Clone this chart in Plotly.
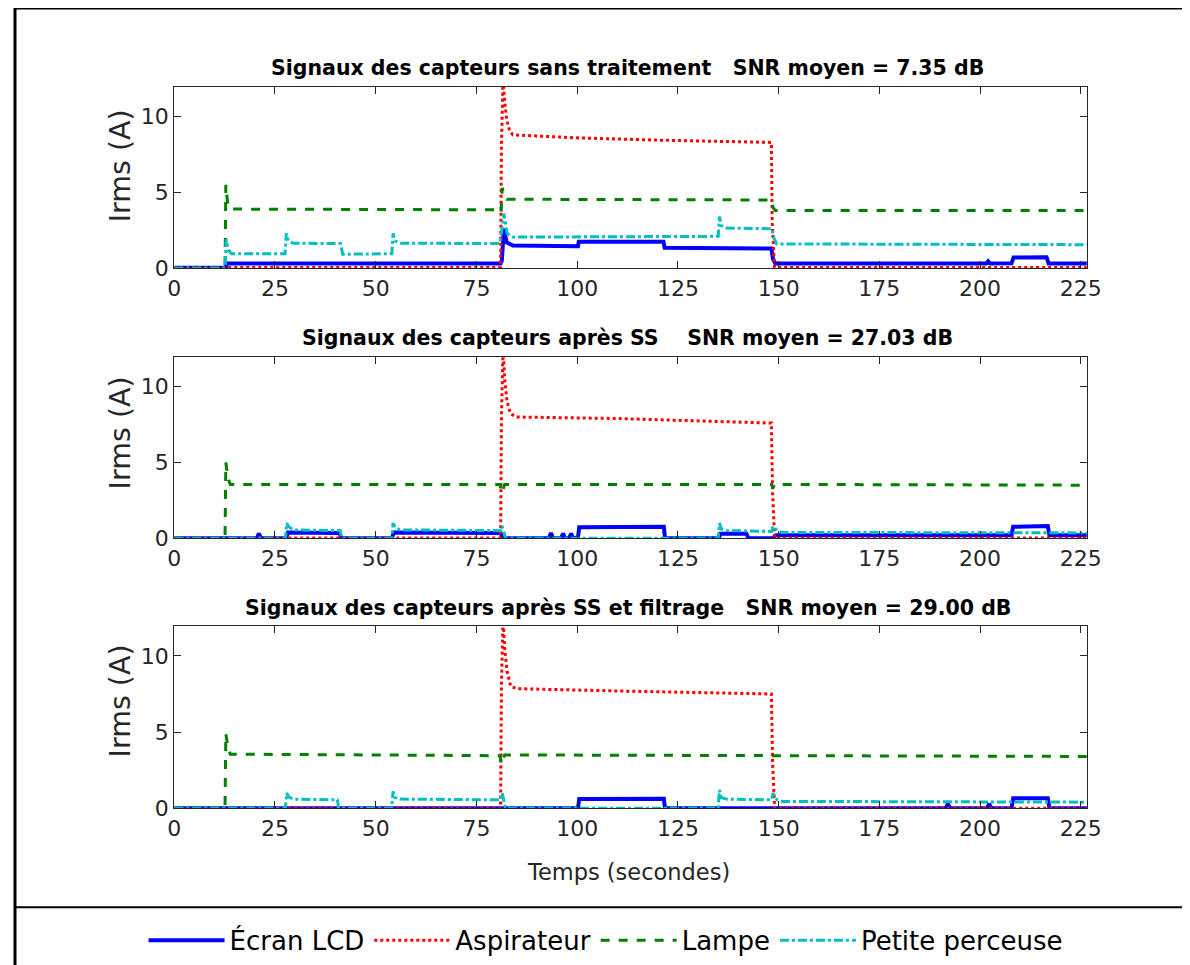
import plotly.graph_objects as go

# Figure size (CSS px). Positions below are given in target picture pixels and
# converted to figure coordinates (page has a body margin and the capture is scaled).
W, H = 1200, 975
FONT = "DejaVu Sans"
SX, OX, SY, BODY = 0.981, 7.0, 0.9865, 8.0

series_names = ["Écran LCD", "Aspirateur", "Lampe", "Petite perceuse"]
series_colors = ["#0000FF", "#FF0000", "#008000", "#00BFBF"]
series_dash = ["solid", "dot", "dash", "dashdot"]
series_width = [4, 3, 3, 3]

titles = [
    "Signaux des capteurs sans traitement\u00a0\u00a0\u00a0SNR moyen = 7.35 dB",
    "Signaux des capteurs après SS\u00a0\u00a0\u00a0\u00a0SNR moyen = 27.03 dB",
    "Signaux des capteurs après SS et filtrage\u00a0\u00a0\u00a0SNR moyen = 29.00 dB",
]
y_label = "Irms (A)"
x_label = "Temps (secondes)"
x_ticks = [0, 25, 50, 75, 100, 125, 150, 175, 200, 225]
y_ticks = [0, 5, 10]

# ---- Subplot 1: sans traitement ----
t_lcd_1 = [0, 12.8, 13.0, 81.0, 81.3, 81.8, 82.5, 84, 100.2, 100.4, 121.4, 121.7, 148.2, 148.6, 149.2, 201.5, 202, 202.5, 207.8, 208.3, 216.5, 217, 226.5]
lcd_1 = [0.02, 0.02, 0.3, 0.3, 0.5, 2.6, 1.7, 1.5, 1.45, 1.75, 1.75, 1.35, 1.3, 0.6, 0.3, 0.3, 0.45, 0.3, 0.32, 0.7, 0.72, 0.3, 0.3]
t_asp_1 = [0, 81.0, 81.2, 81.6, 82.0, 82.5, 83.2, 84, 100, 120, 148.2, 148.4, 149, 226.5]
asp_1 = [0.05, 0.05, 8, 12.5, 11, 9.8, 9.1, 8.8, 8.6, 8.45, 8.3, 3, 0.05, 0.05]
t_lam_1 = [0, 12.6, 12.8, 13.2, 13.8, 80.9, 81.1, 81.4, 81.9, 82.5, 148.3, 148.6, 149.2, 226.5]
lam_1 = [0, 0, 5.5, 4.4, 3.9, 3.85, 3.7, 5.3, 4.8, 4.55, 4.5, 4.0, 3.8, 3.8]
t_per_1 = [0, 12.6, 12.9, 13.4, 14.2, 27.5, 27.8, 28.3, 29.5, 41.3, 41.8, 54.0, 54.3, 54.8, 56, 80.8, 81.3, 81.8, 82.6, 84, 135.0, 135.3, 135.8, 137, 148.3, 148.8, 149.5, 226.5]
per_1 = [0, 0, 1.9, 1.2, 0.95, 0.95, 2.3, 1.8, 1.65, 1.62, 0.92, 0.95, 2.3, 1.8, 1.65, 1.62, 2.5, 3.6, 2.3, 2.05, 2.1, 3.4, 2.8, 2.65, 2.6, 2.0, 1.6, 1.55]

# ---- Subplot 2: après SS ----
t_lcd_2 = [0, 20.5, 21, 21.5, 27.8, 28.2, 41, 41.5, 54.0, 54.5, 81.0, 81.5, 93, 93.5, 94, 96, 96.5, 97, 98, 98.5, 99, 100.2, 100.5, 121.5, 121.8, 135.2, 135.5, 142, 142.5, 148.5, 149.3, 207.8, 208.2, 216.8, 217.2, 226.5]
lcd_2 = [0, 0, 0.3, 0, 0, 0.38, 0.35, 0, 0, 0.38, 0.35, 0, 0, 0.35, 0, 0, 0.3, 0, 0, 0.3, 0, 0.05, 0.73, 0.75, 0, 0, 0.3, 0.3, 0, 0, 0.2, 0.2, 0.75, 0.8, 0.2, 0.2]
t_asp_2 = [0, 81.0, 81.2, 81.6, 82.0, 82.6, 83.5, 85, 110, 148.2, 148.5, 149, 226.5]
asp_2 = [0.02, 0.02, 8, 12.5, 10.5, 9, 8.2, 8.0, 7.9, 7.6, 3, 0.02, 0.02]
t_lam_2 = [0, 12.6, 12.8, 13.3, 13.9, 80.9, 81.1, 81.5, 82, 148.3, 148.6, 149, 226.5]
lam_2 = [0, 0, 5.0, 4.0, 3.55, 3.55, 3.0, 3.1, 3.55, 3.55, 3.3, 3.55, 3.5]
t_per_2 = [0, 27.6, 27.9, 28.4, 29.5, 41.2, 41.5, 54.0, 54.3, 54.8, 56, 81.0, 81.4, 81.8, 82.2, 135.0, 135.3, 135.8, 137, 148.3, 148.6, 149.0, 149.6, 151, 226.5]
per_2 = [0, 0, 1.0, 0.75, 0.55, 0.5, 0, 0, 1.0, 0.7, 0.55, 0.5, 0.8, 0.3, 0, 0, 1.0, 0.6, 0.5, 0.45, 0.8, 0.7, 0.5, 0.38, 0.35]

# ---- Subplot 3: après SS et filtrage ----
t_lcd_3 = [0, 100.2, 100.5, 121.5, 121.8, 191.5, 192, 192.5, 201.8, 202.2, 202.8, 207.8, 208.2, 216.8, 217.2, 226.5]
lcd_3 = [0, 0, 0.6, 0.62, 0, 0, 0.3, 0, 0, 0.3, 0, 0, 0.65, 0.65, 0, 0]
t_asp_3 = [0, 81.0, 81.2, 81.6, 82, 82.6, 83.5, 85, 110, 148.2, 148.5, 149, 226.5]
asp_3 = [0, 0, 8, 12.5, 10.5, 9, 8.0, 7.85, 7.7, 7.5, 3, 0, 0]
t_lam_3 = [0, 12.6, 12.8, 13.3, 13.9, 80.9, 81.1, 81.5, 82, 226.5]
lam_3 = [0, 0, 4.9, 4.0, 3.55, 3.45, 2.9, 3.2, 3.5, 3.4]
t_per_3 = [0, 27.6, 27.9, 28.4, 29.5, 40.5, 40.8, 54.0, 54.3, 54.8, 56, 81.0, 81.4, 81.8, 82.2, 135.0, 135.3, 135.8, 137, 148.3, 148.6, 149.0, 149.6, 151, 226.5]
per_3 = [0, 0, 1.0, 0.75, 0.6, 0.55, 0, 0, 1.1, 0.7, 0.6, 0.55, 1.0, 0.4, 0, 0, 1.2, 0.7, 0.6, 0.55, 1.0, 0.8, 0.55, 0.45, 0.4]

subplots = [
    [(t_lcd_1, lcd_1), (t_asp_1, asp_1), (t_lam_1, lam_1), (t_per_1, per_1)],
    [(t_lcd_2, lcd_2), (t_asp_2, asp_2), (t_lam_2, lam_2), (t_per_2, per_2)],
    [(t_lcd_3, lcd_3), (t_asp_3, asp_3), (t_lam_3, lam_3), (t_per_3, per_3)],
]


def px(d):
    """target picture x -> paper fraction"""
    return ((d - OX) / SX - BODY) / W


def py(d):
    """target picture y -> paper fraction (from bottom)"""
    return 1 - (d / SY - BODY) / H


# plot-area boxes in target pixels
x_left, x_right = 174, 1086
y_boxes = [(87, 268), (357, 538), (626, 808)]
title_y = [68, 338, 608]
ylabel_y = [166, 433, 701]

fig = go.Figure()
for i, series in enumerate(subplots):
    ax = "" if i == 0 else str(i + 1)
    for j, (tt, vv) in enumerate(series):
        fig.add_trace(go.Scatter(
            x=tt, y=vv, mode="lines", name=series_names[j],
            line=dict(color=series_colors[j], dash=series_dash[j], width=series_width[j]),
            xaxis="x" + ax, yaxis="y" + ax, showlegend=(i == 0),
        ))

layout = dict(
    width=W, height=H, margin=dict(l=0, r=0, t=0, b=0),
    paper_bgcolor="white", plot_bgcolor="white",
    font=dict(family=FONT, color="black"),
    showlegend=True,
    legend=dict(orientation="h", x=px(605), xanchor="center", y=py(940), yanchor="middle",
                font=dict(size=26, family=FONT), itemwidth=76, bgcolor="rgba(0,0,0,0)"),
)
annotations = []
for i, (top, bot) in enumerate(y_boxes):
    ax = "" if i == 0 else str(i + 1)
    layout["xaxis" + ax] = dict(
        domain=[px(x_left), px(x_right)], range=[0, 226.5], anchor="y" + ax,
        tickvals=x_ticks, ticks="inside", ticklen=7, tickcolor="#262626",
        showline=True, linecolor="#262626", linewidth=1, mirror="ticks",
        showgrid=False, zeroline=False, tickfont=dict(size=22, family=FONT, color="#262626"),
    )
    layout["yaxis" + ax] = dict(
        domain=[py(bot), py(top)], range=[0, 11.95], anchor="x" + ax,
        tickvals=y_ticks, ticks="inside", ticklen=7, tickcolor="#262626",
        showline=True, linecolor="#262626", linewidth=1, mirror="ticks",
        showgrid=False, zeroline=False, tickfont=dict(size=22, family=FONT, color="#262626"),
    )
    annotations.append(dict(
        text="<b>" + titles[i] + "</b>", x=px(627), y=py(title_y[i]), xref="paper", yref="paper",
        xanchor="center", yanchor="middle", showarrow=False, font=dict(size=20.5, family=FONT, color="black"),
    ))
    annotations.append(dict(
        text=y_label, x=px(120), y=py(ylabel_y[i]), xref="paper", yref="paper", textangle=-90,
        xanchor="center", yanchor="middle", showarrow=False, font=dict(size=28.5, family=FONT, color="#262626"),
    ))
annotations.append(dict(
    text=x_label, x=px(628), y=py(872), xref="paper", yref="paper",
    xanchor="center", yanchor="middle", showarrow=False, font=dict(size=22.5, family=FONT, color="#262626"),
))
layout["annotations"] = annotations
layout["shapes"] = [
    dict(type="line", xref="paper", yref="paper", x0=0, x1=1, y0=1, y1=1, line=dict(color="black", width=3)),
    dict(type="line", xref="paper", yref="paper", x0=0, x1=0, y0=0, y1=1, line=dict(color="black", width=3)),
    dict(type="line", xref="paper", yref="paper", x0=0, x1=1, y0=py(907), y1=py(907), line=dict(color="black", width=2)),
]
fig.update_layout(**layout)
fig.write_html("out.html")
